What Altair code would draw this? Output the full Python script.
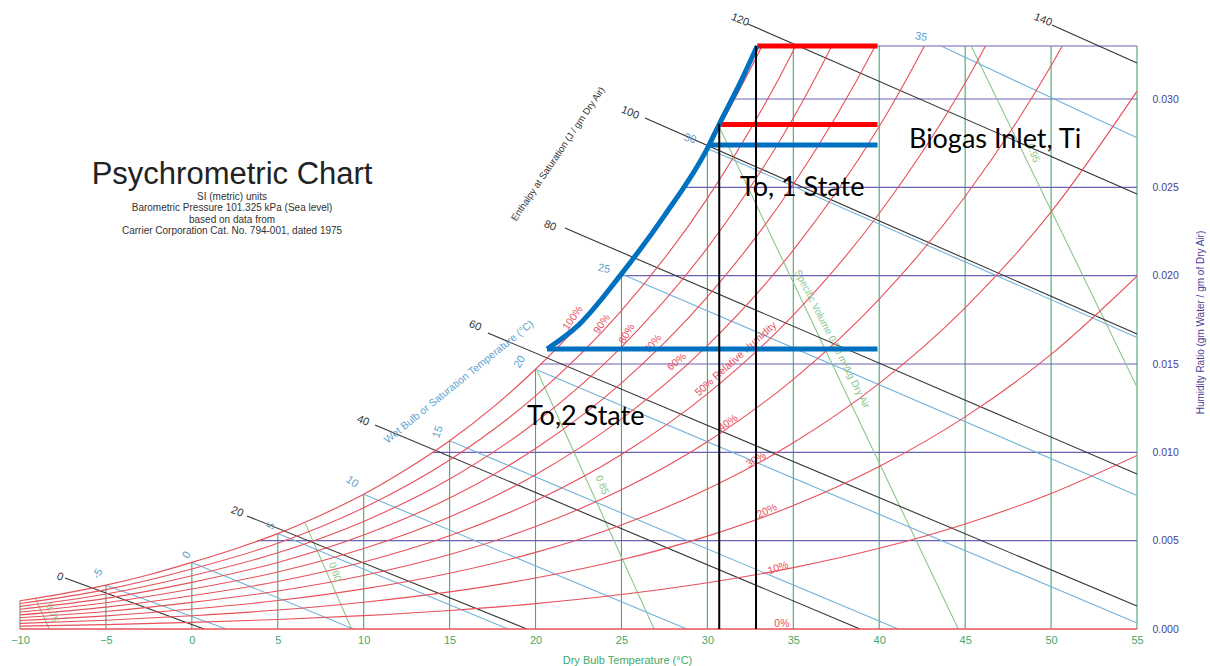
import altair as alt
import pandas as pd

# ---------------- data ----------------
temps = [-10, -5, 0, 5, 10, 15, 20, 25, 30, 35, 40, 45, 50, 55]
rh_levels = [10, 20, 30, 40, 50, 60, 70, 80, 90]
rh_10 = [0.00016, 0.000247, 0.000376, 0.000536, 0.000755, 0.001048, 0.001439, 0.001951, 0.002617, 0.003474, 0.004566, 0.005945, 0.007675, 0.009827]
rh_20 = [0.00032, 0.000495, 0.000753, 0.001072, 0.001512, 0.0021, 0.002885, 0.003915, 0.005257, 0.006987, 0.0092, 0.012005, 0.015541, 0.01997]
rh_30 = [0.00048, 0.000743, 0.00113, 0.00161, 0.00227, 0.003156, 0.004338, 0.005891, 0.007919, 0.01054, 0.013902, 0.018183, 0.023607, 0.030444]
rh_40 = [0.00064, 0.00099, 0.001507, 0.002148, 0.00303, 0.004215, 0.005797, 0.00788, 0.010604, 0.014133, 0.018675, 0.024482, 0.031879, 0.041266]
rh_50 = [0.0008, 0.001238, 0.001884, 0.002688, 0.003792, 0.005277, 0.007263, 0.009881, 0.013311, 0.017768, 0.023521, 0.030907, 0.040367, None]
rh_60 = [0.00096, 0.001486, 0.002261, 0.003228, 0.004555, 0.006344, 0.008735, 0.011893, 0.016042, 0.021444, 0.02844, 0.037461, None, None]
rh_70 = [0.00112, 0.001733, 0.002639, 0.003769, 0.005322, 0.007414, 0.010215, 0.01392, 0.018797, 0.025162, 0.033435, 0.044148, None, None]
rh_80 = [0.00128, 0.001981, 0.003016, 0.004312, 0.00609, 0.008487, 0.011702, 0.015961, 0.021575, 0.028924, 0.038507, None, None, None]
rh_90 = [0.00144, 0.002229, 0.003394, 0.004855, 0.00686, 0.009564, 0.013196, 0.018015, 0.024378, 0.03273, 0.043659, None, None, None]
rh_series = [rh_10, rh_20, rh_30, rh_40, rh_50, rh_60, rh_70, rh_80, rh_90]

sat_t = [-10, -7.5, -5, -2.5, 0, 2.5, 5, 7.5, 10, 12.5, 15, 17.5, 20, 22.5, 25, 27.5, 30, 32.5, 35]
sat_w = [0.0016, 0.002, 0.00248, 0.00307, 0.00377, 0.00453, 0.0054, 0.00644, 0.00763, 0.00904, 0.01065,
         0.01253, 0.0147, 0.0172, 0.0201, 0.02338, 0.0272, 0.0317, 0.0366]

db_temps = [-10, -5, 0, 5, 10, 15, 20, 25, 30, 35, 40, 45, 50, 55]
db_tops = [0.0016, 0.00248, 0.00377, 0.0054, 0.00763, 0.01065, 0.0147, 0.0201, 0.0272, 0.033, 0.033, 0.033, 0.033, 0.033]

hr_levels = [0.005, 0.010, 0.015, 0.020, 0.025, 0.030, 0.033]
hr_start_t = [3.8, 14.0, 20.3, 24.9, 28.5, 31.6, 33.2]

wb_labels = ["-5", "0", "5", "10", "15", "20", "25", "30", "35"]
wb_start_t = [-5, 0, 5, 10, 15, 20, 25, 30, 43.6]
wb_start_w = [0.00248, 0.00377, 0.0054, 0.00763, 0.01065, 0.0147, 0.0201, 0.0272, 0.033]
wb_end_t = [2.0, 9.4, 18.4, 28.8, 41.1, 55, 55, 55, 55]
wb_end_w = [0, 0, 0, 0, 0, 0.00034, 0.00755, 0.0165, 0.0278]
wb_lab_t = [-5.46, -0.28, 4.61, 9.32, 14.32, 19.09, 23.98, 28.99, 42.43]
wb_lab_w = [0.00311, 0.00419, 0.00583, 0.00832, 0.01115, 0.01511, 0.02038, 0.02774, 0.03351]
wb_lab_ang = [300, 300, 300, 35, 290, 300, 10, 15, 10]

en_labels = ["0", "20", "40", "60", "80", "100", "120", "140"]
en_start_t = [-7.38, 3.21, 10.66, 17.23, 21.71, 26.37, 32.36, 50.05]
en_start_w = [0.00289, 0.0064, 0.01155, 0.01675, 0.0227, 0.02892, 0.03425, 0.03419]
en_end_t = [0.71, 19.5, 38.88, 55, 55, 55, 55, 55]
en_end_w = [0, 0, 0, 0.0013, 0.00877, 0.0167, 0.02462, 0.03204]
en_lab_t = [-7.67, 2.63, 9.96, 16.48, 20.84, 25.5, 31.9, 49.53]
en_lab_w = [0.00294, 0.00662, 0.01177, 0.01715, 0.02281, 0.02921, 0.03447, 0.03447]

sv_labels = ["0.75", "0.80", "0.85", "Specific Volume 0.90 m³/kg Dry Air", "0.95"]
sv_start_t = [-9.1, 6.6, 20.1, 30.7, 45.35]
sv_start_w = [0.00172, 0.00598, 0.0146, 0.0284, 0.033]
sv_end_t = [-8.3, 9.3, 26.9, 44.6, 55]
sv_end_w = [0, 0, 0, 0, 0.0137]
sv_lab_t = [-8.14, 8.33, 23.87, 37.25, 48.95]
sv_lab_w = [0.00091, 0.00323, 0.00815, 0.01641, 0.02694]
sv_lab_ang = [70, 70, 68, 63, 68]

rh_labels = ["100%", "90%", "80%", "70%", "60%", "50% Relative Humidity", "40%", "30%", "20%", "10%", "0%"]
rh_lab_t = [22.18, 23.87, 25.32, 26.83, 28.23, 31.66, 31.2, 32.83, 33.47, 34.11, 34.34]
rh_lab_w = [0.0176, 0.01726, 0.0167, 0.01613, 0.01511, 0.01528, 0.01166, 0.00957, 0.00668, 0.00345, 0.00028]
rh_lab_ang = [305, 305, 300, 310, 320, 318, 325, 330, 335, 340, 0]

# overlay annotations
blue_curve_t = [20.67, 22.5, 25, 27.5, 30, 30.7, 31.9, 32.9]
blue_curve_w = [0.01585, 0.0172, 0.0201, 0.0234, 0.0272, 0.0286, 0.0309, 0.033]
blue_h_w = [0.01585, 0.0274]
blue_h_t0 = [20.67, 30.1]
red_h_w = [0.033, 0.02855]
red_h_t0 = [32.9, 30.8]
h_end_t = 39.9
black_v_t = [30.69, 32.83]
black_v_top = [0.0286, 0.033]

notes = ["Biogas Inlet, Ti", "To, 1 State", "To,2 State"]
notes_t = [41.73, 31.9, 19.5]
notes_w = [0.02768, 0.02496, 0.0120]

title_lines = ["SI (metric) units", "Barometric Pressure 101.325 kPa (Sea level)",
               "based on data from", "Carrier Corporation Cat. No. 794-001, dated 1975"]
title_lines_w = [0.02445, 0.02383, 0.02315, 0.02253]

# ---------------- styling ----------------
GREEN = "#45a86c"
GREEN_LT = "#8cc78a"
RED = "#e8505a"
BLUE = "#72b2d8"
BLUE_TXT = "#5b9fd0"
PURPLE = "#6b62b8"
PURPLE_TXT = "#4b3d96"
DARK = "#333333"
FONT = "Liberation Sans"

X = alt.X("T:Q", scale=alt.Scale(domain=[-10, 55], nice=False, zero=False),
          axis=alt.Axis(values=list(range(-10, 56, 5)), labelColor=GREEN, labelFontSize=11,
                        labelFont=FONT, ticks=False, tickSize=0, domain=False, grid=False,
                        labelPadding=5, labelFlush=False,
                        title="Dry Bulb Temperature (°C)", titleColor=GREEN, titleFontSize=11,
                        titleFont=FONT, titleFontWeight="normal", titleX=607, titleY=25))
Y = alt.Y("W:Q", scale=alt.Scale(domain=[0, 0.033], nice=False, zero=False),
          axis=alt.Axis(orient="right", values=[0, 0.005, 0.010, 0.015, 0.020, 0.025, 0.030],
                        format=".3f", labelColor=PURPLE_TXT, labelFontSize=10.5, labelFont=FONT,
                        ticks=False, tickSize=0, domain=False, grid=False, labelPadding=15,
                        labelFlush=False,
                        title="Humidity Ratio (gm Water / gm of Dry Air)", titleColor=PURPLE_TXT,
                        titleFontSize=10, titleFont=FONT, titleFontWeight="normal",
                        titleAngle=270, titleX=63, titleY=276, titleAlign="center",
                        titleBaseline="middle"))


def segs(prefix, t0, w0, t1, w1):
    rows = []
    for i in range(len(t0)):
        rows.append({"id": f"{prefix}{i}", "ord": 0, "T": t0[i], "W": w0[i]})
        rows.append({"id": f"{prefix}{i}", "ord": 1, "T": t1[i], "W": w1[i]})
    return pd.DataFrame(rows)


def line_layer(df, color, width=1.1, interp="linear", clip=False):
    return alt.Chart(df).mark_line(color=color, strokeWidth=width, interpolate=interp, clip=clip).encode(
        x=X, y=Y, detail="id:N", order="ord:Q")


def text_layer(df, color, size=11, font=FONT, align="center"):
    return alt.Chart(df).mark_text(color=color, fontSize=size, font=font, align=align,
                                   baseline="middle").encode(
        x=X, y=Y, text="label:N", angle=alt.Angle("ang:Q", scale=None))


# RH curves table
rh_rows = []
for lvl, ser in zip(rh_levels, rh_series):
    for k, (t, w) in enumerate(zip(temps, ser)):
        if w is not None:
            rh_rows.append({"id": f"rh{lvl}", "ord": k, "T": t, "W": w})
rh_df = pd.DataFrame(rh_rows)
zero_df = pd.DataFrame({"id": ["rh0", "rh0"], "ord": [0, 1], "T": [-10, 55], "W": [0, 0]})
sat_df = pd.DataFrame({"id": "sat", "ord": list(range(len(sat_t))), "T": sat_t, "W": sat_w})

db_df = segs("db", db_temps, [0] * len(db_temps), db_temps, db_tops)
hr_df = segs("hr", hr_start_t, hr_levels, [55] * len(hr_levels), hr_levels)
wb_df = segs("wb", wb_start_t, wb_start_w, wb_end_t, wb_end_w)
en_df = segs("en", en_start_t, en_start_w, en_end_t, en_end_w)
sv_df = segs("sv", sv_start_t, sv_start_w, sv_end_t, sv_end_w)

bc_df = pd.DataFrame({"id": "bc", "ord": list(range(len(blue_curve_t))), "T": blue_curve_t, "W": blue_curve_w})
bh_df = segs("bh", blue_h_t0, blue_h_w, [h_end_t] * 2, blue_h_w)
rdh_df = segs("rh", red_h_t0, red_h_w, [h_end_t] * 2, red_h_w)
bv_df = segs("bv", black_v_t, [0, 0], black_v_t, black_v_top)

wb_lab = pd.DataFrame({"label": wb_labels, "T": wb_lab_t, "W": wb_lab_w, "ang": wb_lab_ang})
en_lab = pd.DataFrame({"label": en_labels, "T": en_lab_t, "W": en_lab_w, "ang": [22] * len(en_labels)})
sv_lab = pd.DataFrame({"label": sv_labels, "T": sv_lab_t, "W": sv_lab_w, "ang": sv_lab_ang})
rh_lab = pd.DataFrame({"label": rh_labels, "T": rh_lab_t, "W": rh_lab_w, "ang": rh_lab_ang})
axis_lab_en = pd.DataFrame({"label": ["Enthalpy at Saturation (J / gm Dry Air)"], "T": [21.31],
                            "W": [0.02689], "ang": [304]})
axis_lab_wb = pd.DataFrame({"label": ["Wet Bulb or Saturation Temperature (°C)"], "T": [15.55],
                            "W": [0.01398], "ang": [321]})
notes_df = pd.DataFrame({"label": notes, "T": notes_t, "W": notes_w, "ang": [0, 0, 0]})
title_df = pd.DataFrame({"label": ["Psychrometric Chart"], "T": [2.34], "W": [0.0257], "ang": [0]})
sub_df = pd.DataFrame({"label": title_lines, "T": [2.34] * 4, "W": title_lines_w, "ang": [0] * 4})

layers = [
    line_layer(db_df, GREEN, 1.1),
    line_layer(hr_df, PURPLE, 1.1),
    line_layer(sv_df, GREEN_LT, 1.1),
    line_layer(wb_df, BLUE, 1.1),
    line_layer(en_df, DARK, 1.1),
    line_layer(rh_df, RED, 1.1, "monotone", True),
    line_layer(zero_df, RED, 1.3),
    line_layer(sat_df, RED, 1.2, "monotone", True),
    text_layer(wb_lab, BLUE_TXT, 11),
    text_layer(en_lab, DARK, 11),
    text_layer(sv_lab, GREEN_LT, 10),
    text_layer(rh_lab, RED, 10.5),
    text_layer(axis_lab_en, DARK, 9.5),
    text_layer(axis_lab_wb, BLUE_TXT, 10.5),
    text_layer(title_df, "#222222", 31),
    text_layer(sub_df, "#333333", 10),
    line_layer(bh_df, "#0070c0", 5),
    line_layer(rdh_df, "#ff0000", 5),
    line_layer(bc_df, "#0070c0", 5, "monotone"),
    line_layer(bv_df, "#000000", 2),
    text_layer(notes_df, "#000000", 27, "Lato", "left"),
]

chart = alt.layer(*layers).properties(
    width=1117, height=583,
    autosize=alt.AutoSizeParams(type="none"),
    padding={"left": 20, "top": 46, "right": 73, "bottom": 37},
    background="white",
).configure_view(stroke=None)

chart.save("out.html", embed_options={"renderer": "svg", "actions": False})
